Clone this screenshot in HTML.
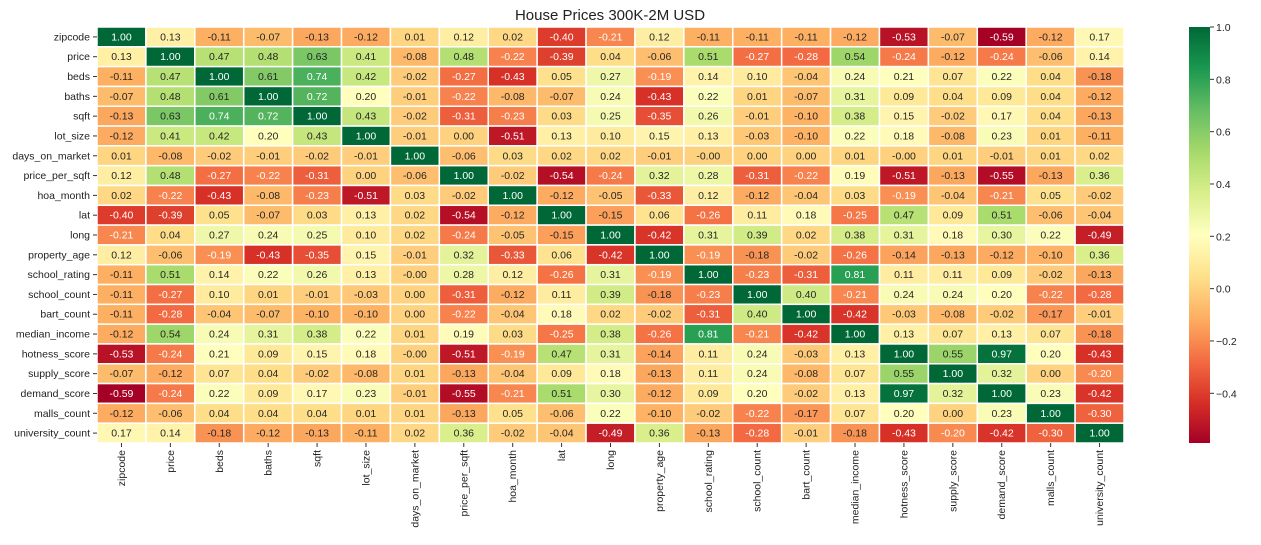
<!DOCTYPE html>
<html><head><meta charset="utf-8"><style>
body{margin:0;background:#fff;width:1261px;height:540px;overflow:hidden}
svg{font-family:"Liberation Sans","DejaVu Sans",sans-serif}
</style></head><body>
<svg id="chart" width="1261" height="540" xmlns="http://www.w3.org/2000/svg">
<text x="610" y="20" text-anchor="middle" font-size="15" fill="#222">House Prices 300K-2M USD</text>
<g id="cells"></g><g id="ylab"></g><g id="xlab"></g><g id="cbar"></g>
</svg>
<script>
const labels=["zipcode","price","beds","baths","sqft","lot_size","days_on_market","price_per_sqft","hoa_month","lat","long","property_age","school_rating","school_count","bart_count","median_income","hotness_score","supply_score","demand_score","malls_count","university_count"];
const r0=[1.00,0.13,-0.11,-0.07,-0.13,-0.12,0.01,0.12,0.02,-0.40,-0.21,0.12,-0.11,-0.11,-0.11,-0.12,-0.53,-0.07,-0.59,-0.12,0.17];
const r1=[0.13,1.00,0.47,0.48,0.63,0.41,-0.08,0.48,-0.22,-0.39,0.04,-0.06,0.51,-0.27,-0.28,0.54,-0.24,-0.12,-0.24,-0.06,0.14];
const r2=[-0.11,0.47,1.00,0.61,0.74,0.42,-0.02,-0.27,-0.43,0.05,0.27,-0.19,0.14,0.10,-0.04,0.24,0.21,0.07,0.22,0.04,-0.18];
const r3=[-0.07,0.48,0.61,1.00,0.72,0.20,-0.01,-0.22,-0.08,-0.07,0.24,-0.43,0.22,0.01,-0.07,0.31,0.09,0.04,0.09,0.04,-0.12];
const r4=[-0.13,0.63,0.74,0.72,1.00,0.43,-0.02,-0.31,-0.23,0.03,0.25,-0.35,0.26,-0.01,-0.10,0.38,0.15,-0.02,0.17,0.04,-0.13];
const r5=[-0.12,0.41,0.42,0.20,0.43,1.00,-0.01,0.00,-0.51,0.13,0.10,0.15,0.13,-0.03,-0.10,0.22,0.18,-0.08,0.23,0.01,-0.11];
const r6=[0.01,-0.08,-0.02,-0.01,-0.02,-0.01,1.00,-0.06,0.03,0.02,0.02,-0.01,-0.001,0.00,0.00,0.01,-0.001,0.01,-0.01,0.01,0.02];
const r7=[0.12,0.48,-0.27,-0.22,-0.31,0.00,-0.06,1.00,-0.02,-0.54,-0.24,0.32,0.28,-0.31,-0.22,0.19,-0.51,-0.13,-0.55,-0.13,0.36];
const r8=[0.02,-0.22,-0.43,-0.08,-0.23,-0.51,0.03,-0.02,1.00,-0.12,-0.05,-0.33,0.12,-0.12,-0.04,0.03,-0.19,-0.04,-0.21,0.05,-0.02];
const r9=[-0.40,-0.39,0.05,-0.07,0.03,0.13,0.02,-0.54,-0.12,1.00,-0.15,0.06,-0.26,0.11,0.18,-0.25,0.47,0.09,0.51,-0.06,-0.04];
const r10=[-0.21,0.04,0.27,0.24,0.25,0.10,0.02,-0.24,-0.05,-0.15,1.00,-0.42,0.31,0.39,0.02,0.38,0.31,0.18,0.30,0.22,-0.49];
const r11=[0.12,-0.06,-0.19,-0.43,-0.35,0.15,-0.01,0.32,-0.33,0.06,-0.42,1.00,-0.19,-0.18,-0.02,-0.26,-0.14,-0.13,-0.12,-0.10,0.36];
const r12=[-0.11,0.51,0.14,0.22,0.26,0.13,-0.001,0.28,0.12,-0.26,0.31,-0.19,1.00,-0.23,-0.31,0.81,0.11,0.11,0.09,-0.02,-0.13];
const r13=[-0.11,-0.27,0.10,0.01,-0.01,-0.03,0.00,-0.31,-0.12,0.11,0.39,-0.18,-0.23,1.00,0.40,-0.21,0.24,0.24,0.20,-0.22,-0.28];
const r14=[-0.11,-0.28,-0.04,-0.07,-0.10,-0.10,0.00,-0.22,-0.04,0.18,0.02,-0.02,-0.31,0.40,1.00,-0.42,-0.03,-0.08,-0.02,-0.17,-0.01];
const r15=[-0.12,0.54,0.24,0.31,0.38,0.22,0.01,0.19,0.03,-0.25,0.38,-0.26,0.81,-0.21,-0.42,1.00,0.13,0.07,0.13,0.07,-0.18];
const r16=[-0.53,-0.24,0.21,0.09,0.15,0.18,-0.001,-0.51,-0.19,0.47,0.31,-0.14,0.11,0.24,-0.03,0.13,1.00,0.55,0.97,0.20,-0.43];
const r17=[-0.07,-0.12,0.07,0.04,-0.02,-0.08,0.01,-0.13,-0.04,0.09,0.18,-0.13,0.11,0.24,-0.08,0.07,0.55,1.00,0.32,0.00,-0.20];
const r18=[-0.59,-0.24,0.22,0.09,0.17,0.23,-0.01,-0.55,-0.21,0.51,0.30,-0.12,0.09,0.20,-0.02,0.13,0.97,0.32,1.00,0.23,-0.42];
const r19=[-0.12,-0.06,0.04,0.04,0.04,0.01,0.01,-0.13,0.05,-0.06,0.22,-0.10,-0.02,-0.22,-0.17,0.07,0.20,0.00,0.23,1.00,-0.30];
const r20=[0.17,0.14,-0.18,-0.12,-0.13,-0.11,0.02,0.36,-0.02,-0.04,-0.49,0.36,-0.13,-0.28,-0.01,-0.18,-0.43,-0.20,-0.42,-0.30,1.00];
const matrix=[r0,r1,r2,r3,r4,r5,r6,r7,r8,r9,r10,r11,r12,r13,r14,r15,r16,r17,r18,r19,r20];
const cbarTicks=[1.0,0.8,0.6,0.4,0.2,0.0,-0.2,-0.4];

const NS="http://www.w3.org/2000/svg";
const X0=97,X1=1124,Y0=27,Y1=443,n=labels.length;
const cw=(X1-X0)/n,ch=(Y1-Y0)/n;
const vmin=-0.59,vmax=1.0;
const stops=[[165,0,38],[215,48,39],[244,109,67],[253,174,97],[254,224,139],[255,255,191],[217,239,139],[166,217,106],[102,189,99],[26,152,80],[0,104,55]];
function cmap(v){let t=Math.max(0,Math.min(1,(v-vmin)/(vmax-vmin)))*(stops.length-1);let i=Math.min(Math.floor(t),stops.length-2),f=t-i;
 return stops[i].map((c,k)=>Math.round(c+(stops[i+1][k]-c)*f));}
function lum(c){const l=c.map(x=>{x/=255;return x<=0.03928?x/12.92:Math.pow((x+0.055)/1.055,2.4)});return 0.2126*l[0]+0.7152*l[1]+0.0722*l[2];}
function el(t,a,p){const e=document.createElementNS(NS,t);for(const k in a)e.setAttribute(k,a[k]);p.appendChild(e);return e;}
const cells=document.getElementById('cells');
matrix.forEach((row,i)=>row.forEach((v,j)=>{
 const c=cmap(v);
 const r=el('rect',{x:X0+j*cw,y:Y0+i*ch,width:cw,height:ch,fill:`rgb(${c})`,stroke:'#fff','stroke-width':1.5},cells);
 
 
 const tx=el('text',{x:X0+(j+0.5)*cw,y:Y0+(i+0.5)*ch+3.5,'text-anchor':'middle','font-size':10.5,fill:lum(c)>0.408?'#262626':'#fff'},cells);
 tx.textContent=(Math.abs(v)<0.005&&v<0?'-0.00':v.toFixed(2));
 
 
}));
const yl=document.getElementById('ylab'),xl=document.getElementById('xlab');
labels.forEach((l,i)=>{
 const y=Y0+(i+0.5)*ch;
 el('line',{x1:X0-4,x2:X0,y1:y,y2:y,stroke:'#333'},yl);
 const t=el('text',{x:X0-7,y:y+3.5,'text-anchor':'end','font-size':10.5,fill:'#222'},yl);t.textContent=l;
 
 
 const x=X0+(i+0.5)*cw;
 el('line',{x1:x,x2:x,y1:Y1,y2:Y1+4,stroke:'#333'},xl);
 const u=el('text',{transform:`translate(${x+3.5},${Y1+7}) rotate(-90)`,'text-anchor':'end','font-size':10.5,fill:'#222'},xl);u.textContent=l;
 
 
});
const cb=document.getElementById('cbar');
const CX=1189,CW=21,vtop=1.0;
const defs=el('defs',{},cb);const g=el('linearGradient',{id:'grad',x1:0,y1:1,x2:0,y2:0},defs);
for(let k=0;k<=20;k++){const v=vmin+(vmax-vmin)*k/20;el('stop',{offset:k/20,'stop-color':`rgb(${cmap(v)})`},g);}
const bar=el('rect',{x:CX,y:Y0,width:CW,height:Y1-Y0,fill:'url(#grad)'},cb);


const cy=v=>Y1-(v-vmin)/(vmax-vmin)*(Y1-Y0);
cbarTicks.forEach(v=>{const y=cy(v);
 el('line',{x1:CX+CW,x2:CX+CW+4,y1:y,y2:y,stroke:'#333'},cb);
 const t=el('text',{x:CX+CW+6,y:y+4,'font-size':10.5,fill:'#222'},cb);t.textContent=v<0?'\u2212'+Math.abs(v).toFixed(1):v.toFixed(1);
 
 
});
</script>
</body></html>
